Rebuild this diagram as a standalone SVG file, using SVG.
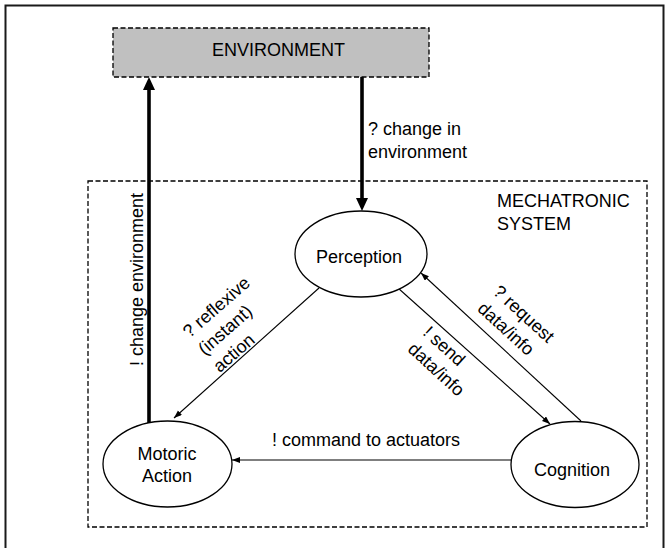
<svg xmlns="http://www.w3.org/2000/svg" width="665" height="548" viewBox="0 0 665 548">
<style>
text{font-family:"Liberation Sans",Arial,sans-serif;font-size:18px;fill:#000}
.node{fill:#fff;stroke:#000;stroke-width:1.3}
.dash{stroke:#000;stroke-width:1.3;stroke-dasharray:5,2.5}
.thin{stroke:#000;stroke-width:1.1;fill:none;marker-end:url(#ah)}
.thick{stroke:#000;stroke-width:3.6;fill:none;marker-end:url(#ahBig)}
</style>
<defs>
<marker id="ah" markerUnits="userSpaceOnUse" markerWidth="9" markerHeight="7" refX="8" refY="3" orient="auto">
<path d="M0,0 L8,3 L0,6 z" fill="#000"/>
</marker>
<marker id="ahBig" markerUnits="userSpaceOnUse" markerWidth="14" markerHeight="13" refX="3" refY="6" orient="auto">
<path d="M0,0 L13,6 L0,12 z" fill="#000"/>
</marker>
</defs>
<rect x="0" y="0" width="665" height="548" fill="#fff"/>
<rect x="5.5" y="5.5" width="658" height="560" fill="none" stroke="#1a1a1a" stroke-width="2"/>
<g id="system">
<rect class="dash" x="88" y="181" width="559" height="346" fill="none"/>
<text x="497" y="207">MECHATRONIC</text>
<text x="497" y="230">SYSTEM</text>
</g>
<g id="environment">
<rect class="dash" x="113" y="28" width="316" height="49" fill="#c0c0c0"/>
<text x="278.5" y="56" text-anchor="middle">ENVIRONMENT</text>
</g>
<g id="connectors">
<line class="thick" x1="149" y1="423" x2="149" y2="87"/>
<line class="thick" x1="362" y1="77" x2="362" y2="201"/>
<line class="thin" x1="319" y1="288" x2="174" y2="418"/>
<line class="thin" x1="398" y1="288" x2="550" y2="424"/>
<line class="thin" x1="581" y1="421" x2="421" y2="273"/>
<line class="thin" x1="511" y1="460" x2="232" y2="460"/>
<text transform="translate(142.5,366) rotate(-90)">! change environment</text>
<text x="368" y="135">? change in</text>
<text x="368" y="158">environment</text>
<g transform="translate(189.5,338.6) rotate(-41.2)">
<text x="0" y="0">? reflexive</text>
<text x="0" y="23">(instant)</text>
<text x="0" y="46">action</text>
</g>
<g transform="translate(422,334) rotate(42.5)">
<text x="0" y="0">! send</text>
<text x="0" y="22.5">data/info</text>
</g>
<g transform="translate(492,293) rotate(42.5)">
<text x="0" y="0">? request</text>
<text x="0" y="23">data/info</text>
</g>
<text x="272" y="446">! command to actuators</text>
</g>
<g id="perception">
<ellipse class="node" cx="361" cy="254" rx="66" ry="43"/>
<text x="359" y="263" text-anchor="middle">Perception</text>
</g>
<g id="motoric-action">
<ellipse class="node" cx="167.5" cy="464" rx="64.5" ry="43"/>
<text x="167" y="460" text-anchor="middle">Motoric</text>
<text x="167" y="482" text-anchor="middle">Action</text>
</g>
<g id="cognition">
<ellipse class="node" cx="575" cy="464.5" rx="64" ry="43"/>
<text x="572" y="476" text-anchor="middle">Cognition</text>
</g>
</svg>
